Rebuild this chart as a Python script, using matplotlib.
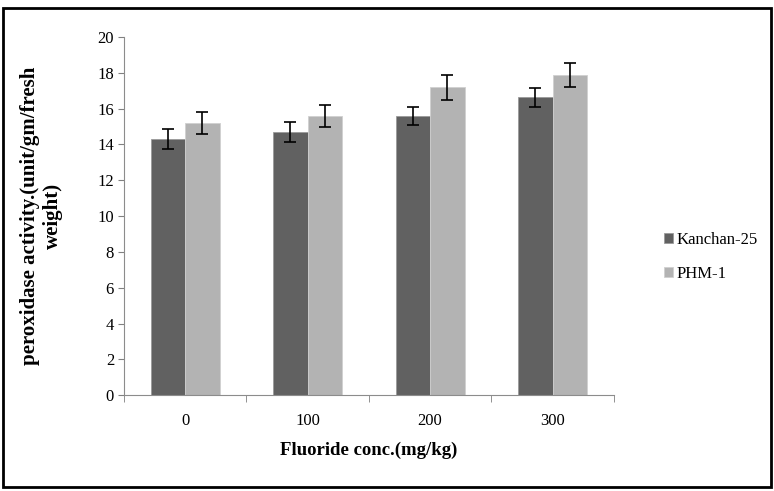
import numpy as np
import matplotlib
matplotlib.use('Agg')
import matplotlib.pyplot as plt
from matplotlib.patches import Rectangle

# Data
concs = ['0', '100', '200', '300']
kanchan = [14.3, 14.67, 15.56, 16.62]
kanchan_err = [0.55, 0.55, 0.5, 0.55]
phm = [15.19, 15.58, 17.18, 17.88]
phm_err = [0.63, 0.63, 0.68, 0.67]

plt.rcParams['font.family'] = ['Liberation Serif', 'DejaVu Serif']

fig = plt.figure(figsize=(7.74, 4.91), dpi=100)
ax = fig.add_axes([0.160, 0.195, 0.633, 0.730])

x = np.arange(len(concs))
w = 0.282
ax.bar(x - w / 2, kanchan, w, color='#616161', edgecolor='#9a9a9a', linewidth=0.6,
       label='Kanchan-25')
ax.bar(x + w / 2, phm, w, color='#b3b3b3', edgecolor='#d0d0d0', linewidth=0.6,
       label='PHM-1')
ax.errorbar(x - w / 2, kanchan, yerr=kanchan_err, fmt='none', ecolor='black',
            elinewidth=1.2, capsize=4, capthick=1.2)
ax.errorbar(x + w / 2, phm, yerr=phm_err, fmt='none', ecolor='black',
            elinewidth=1.2, capsize=4, capthick=1.2)

ax.set_xlim(-0.5, len(concs) - 0.5)
ax.set_ylim(0, 20)
ax.set_yticks(range(0, 21, 2))
ax.set_xticks(x)
ax.set_xticklabels(concs)
ax.set_xticks(np.arange(-0.5, len(concs)), minor=True)
ax.tick_params(axis='x', which='major', length=0, pad=13, labelsize=12)
ax.tick_params(axis='x', which='minor', length=5, color='#808080')
ax.tick_params(axis='y', length=4, color='#808080', labelsize=12, pad=3)

for s in ['top', 'right']:
    ax.spines[s].set_visible(False)
for s in ['left', 'bottom']:
    ax.spines[s].set_color('#8c8c8c')

ax.set_xlabel('Fluoride conc.(mg/kg)', fontsize=13.5, fontweight='bold', labelpad=9)
ax.set_ylabel('peroxidase activity.(unit/gm/fresh\nweight)', fontsize=15,
              fontweight='bold', labelpad=25, linespacing=1.2)

leg = fig.legend(loc='center left', bbox_to_anchor=(0.838, 0.477), frameon=False,
                 fontsize=12, handlelength=0.55, handleheight=0.55, handletextpad=0.2,
                 labelspacing=1.05)

# Outer frame around the figure
fig.patches.append(Rectangle((0.004, 0.008), 0.992, 0.976, transform=fig.transFigure,
                             fill=False, edgecolor='black', linewidth=2))

plt.savefig('out.png', dpi=100)
